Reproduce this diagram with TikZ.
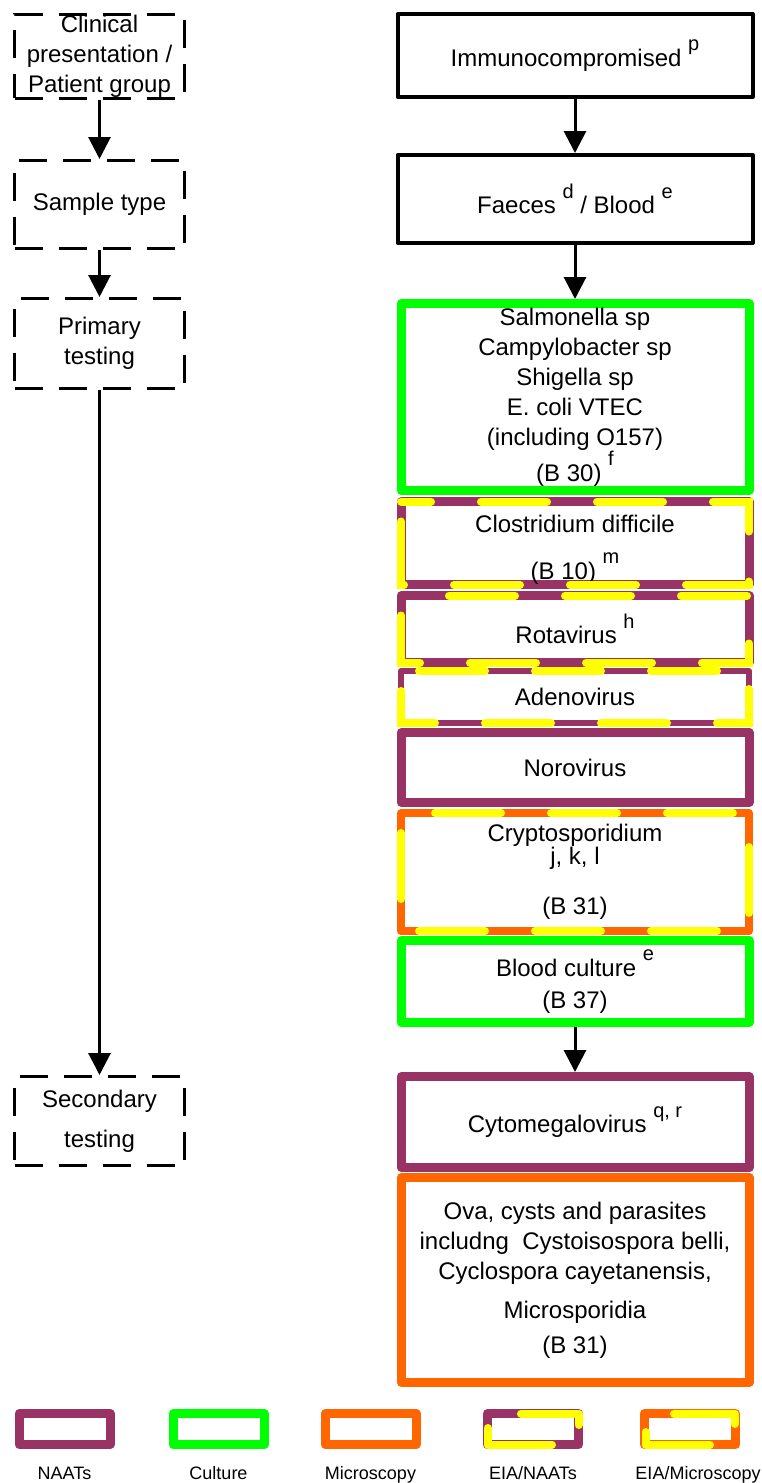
\documentclass[tikz,border=0pt]{standalone}
\usepackage{fontspec}
\setmainfont{Liberation Sans}
\usetikzlibrary{arrows.meta}
\definecolor{naat}{RGB}{153,51,102}
\definecolor{cult}{RGB}{0,255,0}
\definecolor{micro}{RGB}{255,102,0}
\definecolor{eia}{RGB}{255,255,0}
\newcommand{\sups}[1]{\raisebox{0.65em}{\fontsize{10}{12}\selectfont #1}}
\tikzstyle{stage}=[draw=black,line width=1.5pt,dash pattern=on 14pt off 8pt,minimum width=85pt,align=center,inner sep=0pt]
\tikzstyle{result}=[draw=black,line width=2pt,minimum width=177.5pt,align=center,line join=round]
\tikzstyle{testbox}=[line width=4.5pt,minimum width=174pt,align=center,inner sep=0pt,outer sep=0pt,line join=round]
\tikzstyle{naatbox}=[testbox,draw=naat]
\tikzstyle{culturebox}=[testbox,draw=cult]
\tikzstyle{microbox}=[testbox,draw=micro]
\tikzstyle{eiadash}=[draw=eia,line width=4pt,line cap=round,dash pattern=on 33pt off 25pt,dash phase=48pt]
\tikzstyle{eiapart}=[draw=eia,line width=4pt,line cap=round,line join=round]
\tikzstyle{flow}=[-{Triangle[length=11pt,width=11pt]},line width=1.5pt]
\tikzstyle{keybox}=[line width=4.5pt,minimum width=45.5pt,minimum height=15.5pt,inner sep=0pt,outer sep=0pt,line join=round]
\tikzstyle{keylabel}=[font=\fontsize{9}{11}\selectfont,anchor=base]

\begin{document}
\begin{tikzpicture}[x=0.5pt,y=-0.5pt,font=\fontsize{12}{15}\selectfont]
                  \useasboundingbox (0,0) rectangle (761,1483);

                  \node (cp) at (99.5,56) [stage,minimum height=42pt] {Clinical\\presentation /\\Patient group};
                  \node (st) at (99.5,204.5) [stage,minimum height=44pt] {Sample type};
                  \node (pt) at (99.5,343.5) [stage,minimum height=45pt] {Primary\\testing};
                  \node (sec) at (99.5,1121) [stage,minimum height=44.5pt] {Secondary\\[5pt]testing};

                  \node (imm) at (575,55.5) [result,minimum height=41.5pt] {Immunocompromised \sups{p}};
                  \node (fae) at (575,199) [result,minimum height=44pt] {Faeces \sups{d} / Blood \sups{e}};
                  \node (sal) at (575,397) [culturebox,minimum height=93.5pt] {Salmonella sp\\Campylobacter sp\\Shigella sp\\E. coli VTEC\\(including O157)\\[3pt](B 30) \smash{\sups{f}}};
                  \node (clo) at (575,543) [naatbox,minimum height=41.5pt] {\rule{0pt}{15pt}Clostridium difficile\\[8.5pt](B 10) \sups{m}};
                  \node (rot) at (575,629) [naatbox,minimum height=33.5pt] {Rotavirus \sups{h}};
                  \node (ade) at (575,697) [naatbox,line width=3pt,minimum height=26pt] {Adenovirus};
                  \node (nor) at (575,767.5) [naatbox,minimum height=35pt] {Norovirus};
                  \node (cry) at (575,872) [microbox,line width=4pt,minimum height=59pt] {Cryptosporidium\\[-3.5pt]j, k, l\\[10pt](B 31)};
                  \node (blo) at (575,981.5) [culturebox,minimum height=41pt] {Blood culture \sups{e}\\[1pt](B 37)};
                  \node (cyt) at (575,1122) [naatbox,minimum height=45.5pt] {Cytomegalovirus \sups{q, r}};
                  \node (ova) at (575,1280) [microbox,minimum height=102.5pt] {Ova, cysts and parasites\\includng\ \ Cystoisospora belli,\\Cyclospora cayetanensis,\\[4.5pt]Microsporidia\\[2.5pt](B 31)};

                  \draw [eiadash] (clo.north west) rectangle (clo.south east);
                  \draw [eiadash] (rot.north west) rectangle (rot.south east);
                  \draw [eiadash] (ade.north west) rectangle (ade.south east);
                  \draw [eiadash] (cry.north west) rectangle (cry.south east);

                  \draw [flow] (cp) -- (st);
                  \draw [flow] (st) -- (pt);
                  \draw [flow] (pt) -- (sec);
                  \draw [flow] (imm) -- (fae);
                  \draw [flow,shorten >=2.25pt] (fae) -- (sal);
                  \draw [flow,shorten <=2.25pt,shorten >=2.25pt] (blo) -- (cyt);

                  \node (knaat) at (64.5,1429) [keybox,draw=naat] {};
                  \node (kcult) at (218.5,1429) [keybox,draw=cult] {};
                  \node (kmicro) at (370.5,1429) [keybox,draw=micro] {};
                  \node (keianaat) at (533,1429) [keybox,draw=naat] {};
                  \node (keiamicro) at (690,1429) [keybox,draw=micro] {};
                  \draw [eiapart] (521,1413.5) -- (578.5,1413.5) -- (578.5,1425);
                  \draw [eiapart] (487.5,1428) -- (487.5,1444.5) -- (552,1444.5);
                  \draw [eiapart] (674,1413.5) -- (734.5,1413.5) -- (734.5,1424);
                  \draw [eiapart] (645.5,1432) -- (645.5,1444.5) -- (710,1444.5);

                  \node (lnaat) at (64.5,1479) [keylabel] {NAATs};
                  \node (lcult) at (218.5,1479) [keylabel] {Culture};
                  \node (lmicro) at (370.5,1479) [keylabel] {Microscopy};
                  \node (leianaat) at (533,1479) [keylabel] {EIA/NAATs};
                  \node (leiamicro) at (698,1479) [keylabel] {EIA/Microscopy};
              \end{tikzpicture}
\end{document}
